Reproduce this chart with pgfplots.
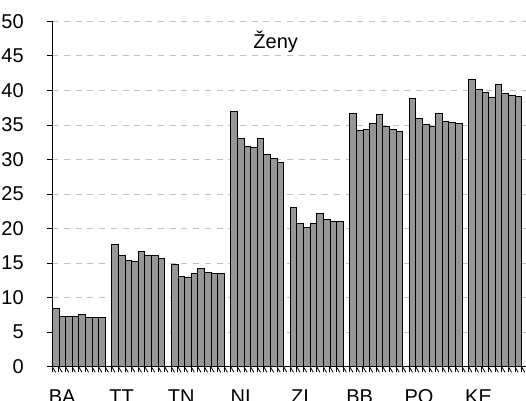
\documentclass[border=0pt]{standalone}
\usepackage{pgfplots}
\pgfplotsset{compat=1.18}
\usepackage{fontspec}
\setmainfont{Liberation Sans}
\definecolor{barfill}{RGB}{150,150,150}
\definecolor{gridc}{RGB}{192,192,192}
\begin{document}
\begin{tikzpicture}
\useasboundingbox (-39.2pt,-25pt) rectangle (355.3pt,275.05pt);
\begin{axis}[
  at={(0pt,0pt)}, anchor=south west,
  scale only axis, width=356.9pt, height=259.05pt,
  xmin=-0.5, xmax=71.5, ymin=0, ymax=50,
  clip=false,
  axis x line*=bottom, axis y line*=left,
  axis line style={-, black, line width=0.6pt},
  ytick={0,5,...,50},
  xtick={-0.5,0.5,...,71.5},
  xticklabels={BA,,,,,,,,,TT,,,,,,,,,TN,,,,,,,,,NI,,,,,,,,,ZI,,,,,,,,,BB,,,,,,,,,PO,,,,,,,,,KE},
  tick align=outside,
  major tick length=4.2pt,
  xtick style={draw=black, line width=0.6pt},
  ytick style={draw=black, line width=0.6pt},
  ymajorgrids,
  grid style={gridc, dash pattern=on 4.5pt off 4.3pt, line width=0.6pt},
  xticklabel style={anchor=north, inner sep=0pt, yshift=-13pt, xshift=7.44pt},
  yticklabel style={anchor=east, inner sep=0pt, xshift=-17pt},
  tick label style={font=\fontsize{15}{17}\selectfont},
  /pgf/number format/assume math mode=true,
]
\addplot[ybar, bar width=1, fill=barfill, draw=black, line width=0.5pt] coordinates {
(0,8.45)(1,7.24)(2,7.24)(3,7.24)(4,7.63)(5,7.09)(6,7.09)(7,7.09)
(9,17.71)(10,16.16)(11,15.44)(12,15.25)(13,16.7)(14,16.12)(15,16.1)(16,15.63)
(18,14.82)(19,13.08)(20,12.94)(21,13.46)(22,14.24)(23,13.6)(24,13.52)(25,13.52)
(27,36.96)(28,33.05)(29,31.9)(30,31.75)(31,33.05)(32,30.74)(33,30.1)(34,29.58)
(36,23.07)(37,20.75)(38,20.22)(39,20.69)(40,22.2)(41,21.33)(42,21.04)(43,21.04)
(45,36.67)(46,34.25)(47,34.36)(48,35.22)(49,36.57)(50,34.79)(51,34.36)(52,34.11)
(54,38.84)(55,35.95)(56,35.08)(57,34.79)(58,36.67)(59,35.51)(60,35.37)(61,35.22)
(63,41.59)(64,40.14)(65,39.71)(66,39.07)(67,40.87)(68,39.57)(69,39.36)(70,39.13)
};
\pgfplotsinvokeforeach{-0.5,0.5,...,71.5}{
  \draw[black, line width=0.6pt] (axis cs:#1,0) -- ++(0,-4.2pt);
}
\pgfplotsinvokeforeach{0,5,...,50}{
  \draw[black, line width=0.6pt] (axis cs:-0.5,#1) -- ++(-4.2pt,0);
}
\node[anchor=base, font=\fontsize{15}{17}\selectfont] at (axis cs:33.3,46.1) {Ženy};
\end{axis}
\end{tikzpicture}
\end{document}
